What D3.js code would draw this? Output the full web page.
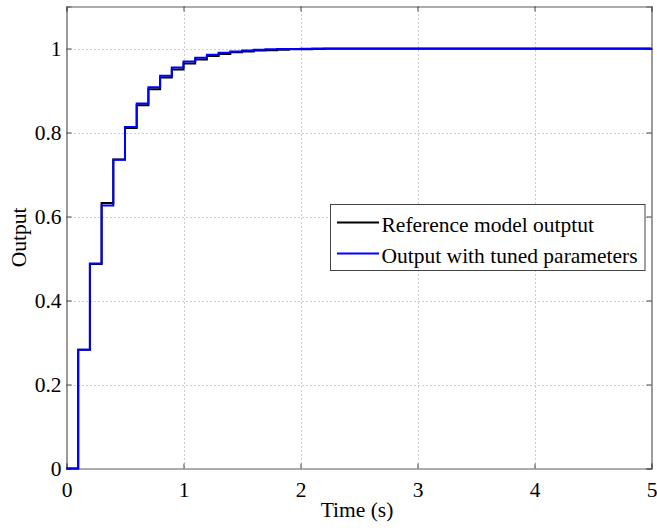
<!DOCTYPE html>
<html>
<head>
<meta charset="utf-8">
<script src="https://cdn.jsdelivr.net/npm/d3@7"></script>
<style>
  body { margin: 0; background: #fff; }
  text { font-family: "Liberation Serif", "Times New Roman", serif; }
</style>
</head>
<body>
<div id="graph"></div>
<script>
    "use strict";

    // sample times (s), step every 0.1 s, then hold to 5 s
    var times = [0, 0.1, 0.2, 0.3, 0.4, 0.5, 0.6, 0.7, 0.8, 0.9, 1.0, 1.1, 1.2,
        1.3, 1.4, 1.5, 1.6, 1.7, 1.8, 1.9, 2.0, 2.1, 2.2, 2.3, 5];
    var referenceOutput = [0, 0.283, 0.487, 0.632, 0.736, 0.811, 0.865, 0.903, 0.931,
        0.950, 0.964, 0.974, 0.982, 0.987, 0.991, 0.993, 0.995, 0.996, 0.997,
        0.998, 0.9985, 0.999, 0.9993, 0.9995, 1.0];
    var tunedOutput = [0, 0.283, 0.488, 0.626, 0.735, 0.813, 0.869, 0.908, 0.935,
        0.955, 0.969, 0.978, 0.985, 0.990, 0.993, 0.995, 0.997, 0.998, 0.999,
        0.999, 0.9995, 1.0, 1.0, 1.0, 1.0];
    var xTicks = [0, 1, 2, 3, 4, 5];
    var yTicks = [0, 0.2, 0.4, 0.6, 0.8, 1];
    var legendLabels = ["Reference model outptut", "Output with tuned parameters"];
    var lineColors = ["#000000", "#0000ff"];

    var width = 657, height = 530;
    var pLeft = 66.5, pRight = 651.5, pTop = 6.5, pBottom = 468.5;
    var fontSize = 21.5;

    var x = d3.scaleLinear().domain([0, 5]).range([pLeft, pRight]);
    var y = d3.scaleLinear().domain([0, 1.1]).range([pBottom, pTop]);

    var svg = d3.select("#graph")
        .append("svg")
        .attr("width", width)
        .attr("height", height);

    // grid
    svg.append("g")
        .selectAll("line")
        .data(xTicks.slice(1, -1))
        .enter().append("line")
        .attr("x1", function (d) { return Math.round(x(d)) + 0.5; })
        .attr("x2", function (d) { return Math.round(x(d)) + 0.5; })
        .attr("y1", pTop).attr("y2", pBottom)
        .attr("stroke", "#9a9a9a").attr("stroke-width", 1)
        .attr("stroke-dasharray", "1,3");
    svg.append("g")
        .selectAll("line")
        .data(yTicks.slice(1))
        .enter().append("line")
        .attr("y1", function (d) { return Math.round(y(d)) + 0.5; })
        .attr("y2", function (d) { return Math.round(y(d)) + 0.5; })
        .attr("x1", pLeft).attr("x2", pRight)
        .attr("stroke", "#9a9a9a").attr("stroke-width", 1)
        .attr("stroke-dasharray", "1,3");

    // axes (ticks inward)
    var xAxis = d3.axisBottom(x).tickValues(xTicks).tickSize(-5).tickPadding(13)
        .tickFormat(d3.format("d"));
    var yAxis = d3.axisLeft(y).tickValues(yTicks).tickSize(-5).tickPadding(5)
        .tickFormat(function (d) { return d === 0 || d === 1 ? d : d3.format(".1f")(d); });

    var gx = svg.append("g").attr("transform", "translate(0," + pBottom + ")").call(xAxis);
    var gy = svg.append("g").attr("transform", "translate(" + pLeft + ",0)").call(yAxis);
    var gx2 = svg.append("g").attr("transform", "translate(0," + pTop + ")")
        .call(d3.axisTop(x).tickValues(xTicks).tickSize(-5).tickFormat(""));
    var gy2 = svg.append("g").attr("transform", "translate(" + pRight + ",0)")
        .call(d3.axisRight(y).tickValues(yTicks).tickSize(-5).tickFormat(""));

    [gx, gy, gx2, gy2].forEach(function (g) {
        g.select(".domain").attr("stroke", "#5a5a5a").attr("stroke-width", 1.2);
        g.selectAll(".tick line").attr("stroke", "#444");
        g.selectAll(".tick text")
            .attr("font-family", "Liberation Serif")
            .attr("font-size", fontSize)
            .attr("fill", "#000");
    });

    // step lines
    var line = d3.line()
        .x(function (d) { return x(d[0]); })
        .y(function (d) { return y(d[1]); })
        .curve(d3.curveStepAfter);

    [referenceOutput, tunedOutput].forEach(function (series, i) {
        svg.append("path")
            .datum(times.map(function (t, k) { return [t, series[k]]; }))
            .attr("d", line)
            .attr("fill", "none")
            .attr("stroke", lineColors[i])
            .attr("stroke-width", 2);
    });

    // axis labels
    svg.append("text")
        .attr("x", 357).attr("y", 517)
        .attr("text-anchor", "middle")
        .attr("font-size", fontSize)
        .text("Time (s)");
    svg.append("text")
        .attr("transform", "translate(26," + (pTop + pBottom) / 2 + ") rotate(-90)")
        .attr("text-anchor", "middle")
        .attr("font-size", fontSize)
        .text("Output");

    // legend
    var legend = svg.append("g");
    legend.append("rect")
        .attr("x", 330.5).attr("y", 204.5)
        .attr("width", 314.5).attr("height", 66)
        .attr("fill", "#fff").attr("stroke", "#444").attr("stroke-width", 1);
    legendLabels.forEach(function (label, i) {
        var ly = 222.5 + i * 31;
        legend.append("line")
            .attr("x1", 337).attr("x2", 379)
            .attr("y1", ly).attr("y2", ly)
            .attr("stroke", lineColors[i]).attr("stroke-width", 2);
        legend.append("text")
            .attr("x", 381.5).attr("y", ly + 9.5)
            .attr("font-size", fontSize)
            .text(label);
    });
</script>
</body>
</html>
